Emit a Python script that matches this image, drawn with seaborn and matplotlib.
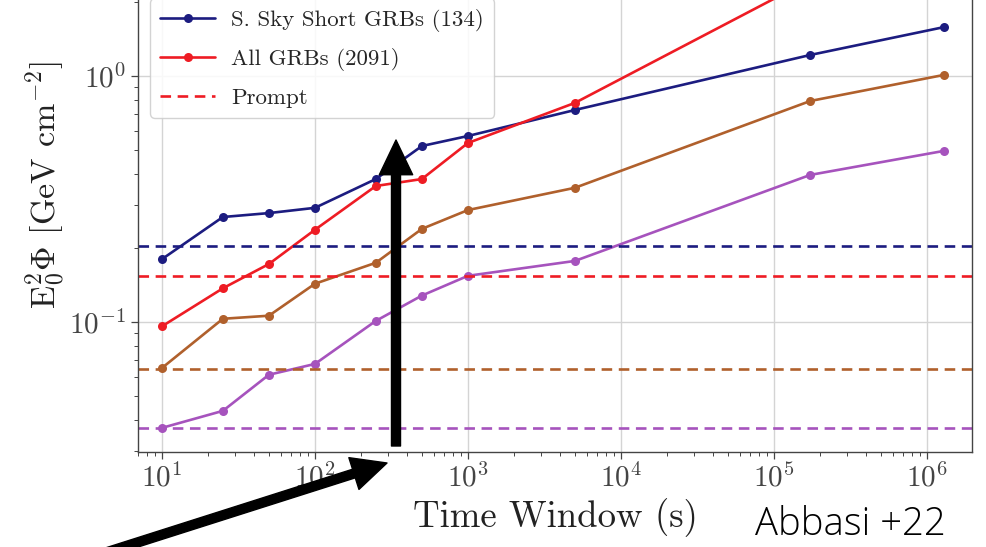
import numpy as np
import pandas as pd
import matplotlib
matplotlib.use("Agg")
import matplotlib.pyplot as plt
import matplotlib.ticker as mticker
import seaborn as sns
from matplotlib.lines import Line2D

# Time windows (s) and upper limits on E0^2 Phi [GeV cm^-2]
time_windows = [10, 25, 50, 100, 250, 500, 1000, 5000, 172800, 1296000]
south_short = [0.180, 0.267, 0.277, 0.291, 0.381, 0.519, 0.570, 0.727, 1.217, 1.58]
all_grbs = [0.096, 0.137, 0.172, 0.237, 0.357, 0.381, 0.534, 0.777, 2.46, 3.3]
brown_series = [0.065, 0.103, 0.106, 0.143, 0.174, 0.239, 0.285, 0.351, 0.791, 1.01]
purple_series = [0.0371, 0.0435, 0.061, 0.0675, 0.101, 0.128, 0.154, 0.177, 0.396, 0.496]

# Prompt-emission limits (horizontal dashed levels)
prompt_levels = [0.204, 0.154, 0.0644, 0.0371]

series_names = ["S. Sky Short GRBs (134)", "All GRBs (2091)", "brown", "purple"]
series_colors = ["#1c1c80", "#ee1c24", "#b0602c", "#a653bd"]

sns.set_theme(style="whitegrid")
plt.rcParams["font.family"] = ["cmr10", "DejaVu Serif"]
plt.rcParams["mathtext.fontset"] = "cm"
plt.rcParams["axes.formatter.use_mathtext"] = True

fig = plt.figure(figsize=(9.87, 5.47), dpi=100)
px_per_dec = 246.0
ylo = 0.0296
yhi = 10 ** 0.64
ax_h_px = (np.log10(yhi) - np.log10(ylo)) * px_per_dec
left, right, bottom_px = 138, 972, 547 - 452
ax = fig.add_axes([left / 987, bottom_px / 547, (right - left) / 987, ax_h_px / 547])

frames = []
for name, vals in zip(series_names, [south_short, all_grbs, brown_series, purple_series]):
    frames.append(pd.DataFrame({"window": time_windows, "flux": vals, "sample": name}))
df = pd.concat(frames, ignore_index=True)

sns.lineplot(data=df, x="window", y="flux", hue="sample", palette=series_colors,
             marker="o", markersize=6.5, markeredgewidth=0, linewidth=1.9,
             legend=False, ax=ax)

for level, color in zip(prompt_levels, series_colors):
    ax.axhline(level, color=color, linestyle="--", linewidth=1.9, dashes=(4, 2.5))

ax.set_xscale("log")
ax.set_yscale("log")
ax.set_xlim(6.97, 1.97e6)
ax.set_ylim(ylo, yhi)


def pow10(v, pos):
    if v <= 0:
        return ""
    e = int(round(np.log10(v)))
    return r"$10^{%d}$" % e


ax.xaxis.set_major_formatter(mticker.FuncFormatter(pow10))
ax.yaxis.set_major_formatter(mticker.FuncFormatter(pow10))

ax.grid(True, which="major", color="#d4d4d4", linewidth=1.0)
ax.grid(False, which="minor")
for side in ["left", "bottom", "right"]:
    ax.spines[side].set_visible(True)
    ax.spines[side].set_color("#444444")
    ax.spines[side].set_linewidth(1.0)
ax.tick_params(which="both", direction="out", colors="#444444", labelcolor="#444444")
ax.tick_params(which="major", length=5, width=0.9, labelsize=21)
ax.tick_params(which="minor", length=3, width=0.7, left=True, bottom=True)
ax.tick_params(axis="both", which="both", bottom=True, left=True)

ax.set_xlabel("Time Window (s)", fontsize=26.5, color="#222222", labelpad=4)
ax.set_ylabel(r"$\mathrm{E}_0^2\Phi$ [GeV cm$^{-2}$]", fontsize=24.5, color="#222222", labelpad=1)

handles = [
    Line2D([], [], color=series_colors[0], marker="o", markersize=6.5, markeredgewidth=0, linewidth=1.9),
    Line2D([], [], color=series_colors[1], marker="o", markersize=6.5, markeredgewidth=0, linewidth=1.9),
    Line2D([], [], color=series_colors[1], linestyle="--", dashes=(4, 2.5), linewidth=1.9),
]
leg = fig.legend(handles, series_names[:2] + ["Prompt"], loc="lower left",
                 bbox_to_anchor=(150 / 987, (547 - 118) / 547), bbox_transform=fig.transFigure,
                 borderaxespad=0, fontsize=16.5, frameon=True, fancybox=True,
                 handlelength=2.4, handletextpad=0.7, labelspacing=0.72, borderpad=0.45)
leg.get_frame().set_edgecolor("#cccccc")
leg.get_frame().set_alpha(0.85)

# Highlighting arrows
arrow_style = dict(facecolor="black", edgecolor="black", width=6.5, headwidth=24,
                   headlength=25, shrink=0)
ax.annotate("", xy=(396, 547 - 140), xytext=(396, 547 - 446), xycoords="figure pixels",
            textcoords="figure pixels", arrowprops=arrow_style, annotation_clip=False)
ax.annotate("", xy=(387, 547 - 463), xytext=(95, 547 - 556), xycoords="figure pixels",
            textcoords="figure pixels", arrowprops=arrow_style, annotation_clip=False)

fig.text(946 / 987, 3 / 547, "Abbasi +22", ha="right", va="bottom", fontsize=27.5,
         family=["Open Sans", "Noto Sans", "DejaVu Sans"], fontweight="light", color="black")

fig.savefig("out.png", dpi=100)
